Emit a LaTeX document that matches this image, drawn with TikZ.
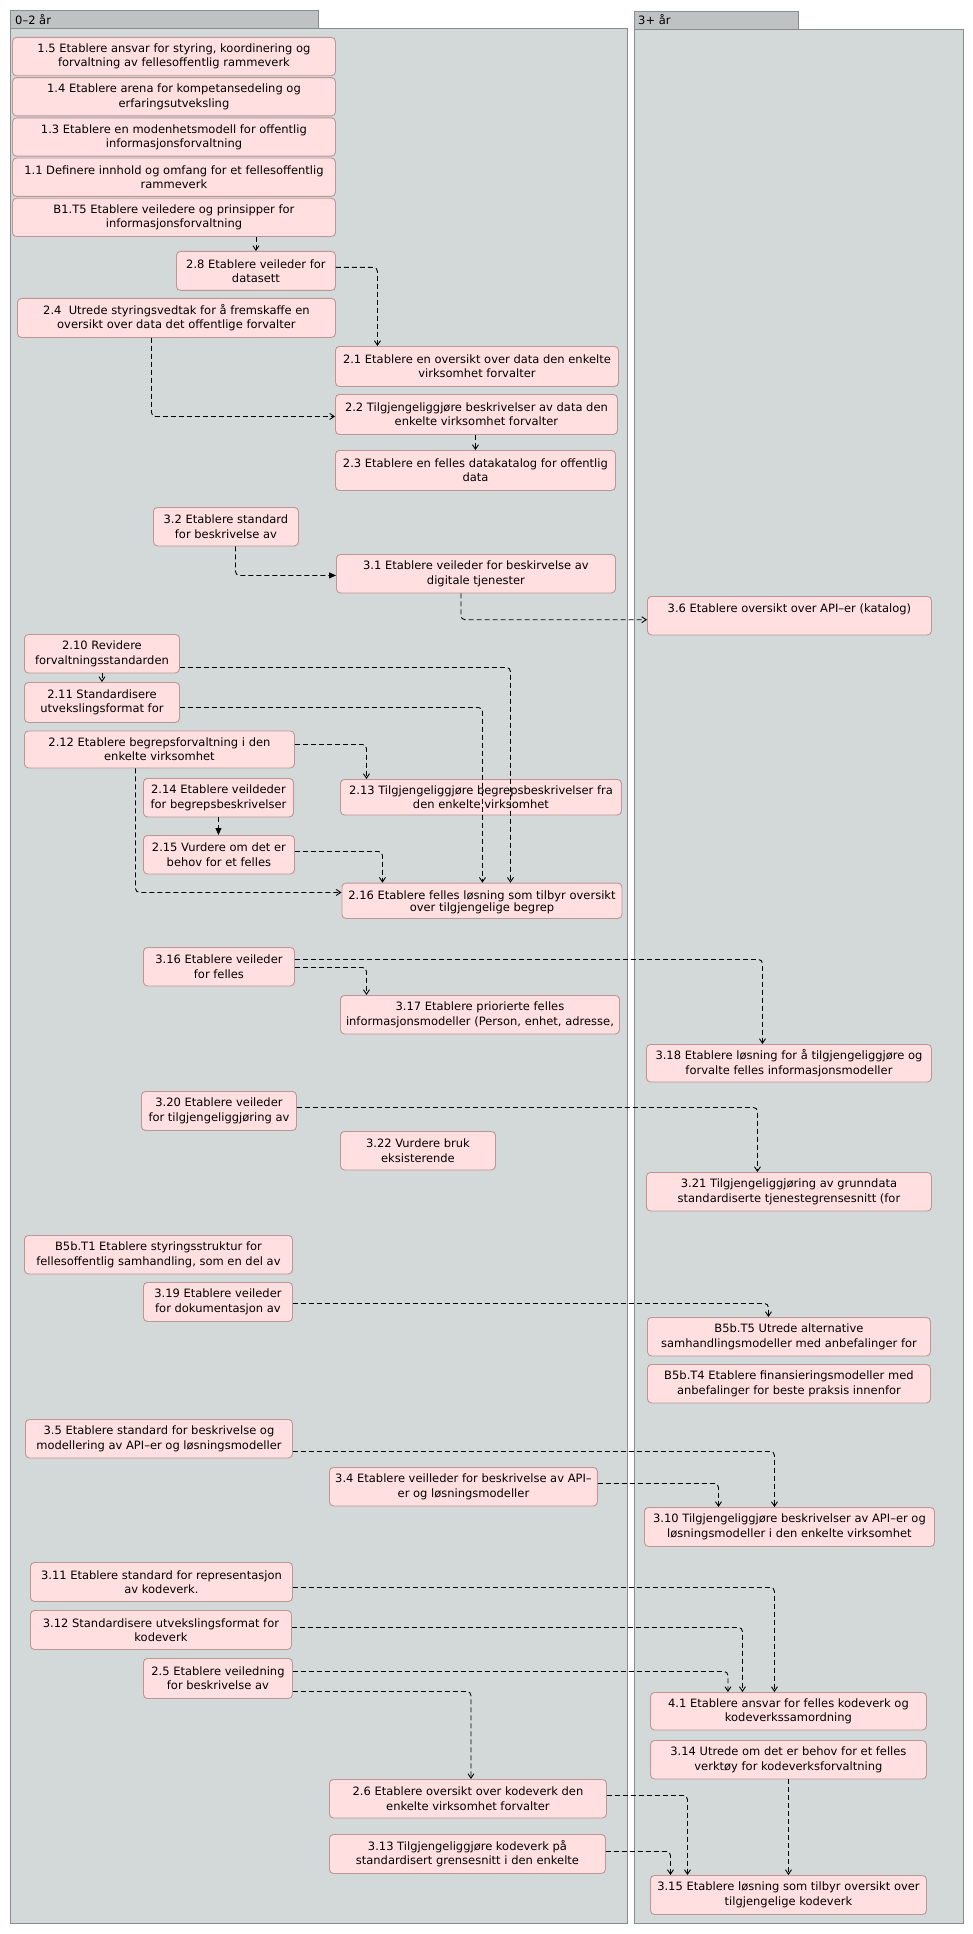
\documentclass[tikz,border=0pt]{standalone}
\usepackage{fontspec}
\setmainfont{DejaVu Sans}
\usepackage{tikz}
\newcommand\tiltakfont{\fontsize{11.5}{14.3}\selectfont}
\definecolor{fasefyll}{RGB}{211,217,217}
\definecolor{fanefyll}{RGB}{190,194,195}
\definecolor{faselinje}{RGB}{140,140,140}
\definecolor{tiltakfyll}{RGB}{255,223,223}
\definecolor{tiltaklinje}{RGB}{190,150,150}
\tikzstyle{avhengighet} = [dash pattern=on 5pt off 3pt, line width=0.9pt, rounded corners=4pt, -{Straight Barb[length=4.5pt,width=6pt]}]
\tikzstyle{forutsetning} = [-{Triangle[length=7pt,width=6pt]}]
\usetikzlibrary{arrows.meta}
\usetikzlibrary{positioning}

\begin{document}
\begin{tikzpicture}[x=1pt, y=-1pt,
                      fase/.style={draw=faselinje, fill=fasefyll, line width=0.9pt},
                      fane/.style={draw=faselinje, fill=fanefyll, line width=0.9pt},
                      fanetekst/.style={anchor=west, inner sep=0pt, font=\tiltakfont},
                      tiltak/.style={draw=tiltaklinje, fill=tiltakfyll, line width=0.9pt, rounded corners=4pt,
                                     inner sep=0pt, minimum height=38.5pt, align=center, anchor=north west, font=\tiltakfont}]

        \fill[white] (0,0) rectangle (973,1934);
        \useasboundingbox (0,0) rectangle (973,1934);

        \draw[fase] (10,28.5) rectangle (627,1923);
        \draw[fane] (10,10.5) rectangle (318,28.5);
        \node[fanetekst] (fase02) at (15,19.5) {0–2 år};
        \draw[fase] (634,29) rectangle (963,1923);
        \draw[fane] (634,11.5) rectangle (798,29);
        \node[fanetekst] (fase3) at (638,20) {3+ år};

        \node[tiltak, minimum width=323pt, minimum height=38.3pt] (t15) at (12,37) {1.5 Etablere ansvar for styring, koordinering og\\forvaltning av fellesoffentlig rammeverk};
        \node[tiltak, minimum width=323pt, minimum height=38.3pt, below=1pt of t15] (t14) {1.4 Etablere arena for kompetansedeling og\\erfaringsutveksling};
        \node[tiltak, minimum width=323pt, minimum height=38.3pt, below=1pt of t14] (t13) {1.3 Etablere en modenhetsmodell for offentlig\\informasjonsforvaltning};
        \node[tiltak, minimum width=323pt, minimum height=38.3pt, below=1pt of t13] (t11) {1.1 Definere innhold og omfang for et fellesoffentlig\\rammeverk};
        \node[tiltak, minimum width=323pt, minimum height=38.3pt, below=1pt of t11] (tB1T5) {B1.T5 Etablere veiledere og prinsipper for\\informasjonsforvaltning};

        \node[tiltak, minimum width=159pt, minimum height=39pt] (t28) at (176,251) {2.8 Etablere veileder for\\datasett};
        \node[tiltak, minimum width=318pt, minimum height=39pt] (t24) at (17,298) {2.4\ \ Utrede styringsvedtak for å fremskaffe en\\oversikt over data det offentlige forvalter};
        \node[tiltak, minimum width=283pt, minimum height=40pt] (t21) at (335,346) {2.1 Etablere en oversikt over data den enkelte\\virksomhet forvalter};
        \node[tiltak, minimum width=282pt, minimum height=40pt] (t22) at (335,394) {2.2 Tilgjengeliggjøre beskrivelser av data den\\enkelte virksomhet forvalter};
        \node[tiltak, minimum width=280pt, minimum height=40pt] (t23) at (335,450) {2.3 Etablere en felles datakatalog for offentlig\\data};

        \node[tiltak, minimum width=145pt] (t32) at (153,507) {3.2 Etablere standard\\for beskrivelse av};
        \node[tiltak, minimum width=279pt] (t31) at (336,554) {3.1 Etablere veileder for beskirvelse av\\digitale tjenester};
        \node[tiltak, minimum width=284pt] (t36) at (647,596) {3.6 Etablere oversikt over API–er (katalog)\\\mbox{}};

        \node[tiltak, minimum width=155pt] (t210) at (24,634) {2.10 Revidere\\forvaltningsstandarden};
        \node[tiltak, minimum width=155pt, minimum height=40pt] (t211) at (24,682) {2.11 Standardisere\\utvekslingsformat for};
        \node[tiltak, minimum width=270pt, minimum height=37pt] (t212) at (24,730.5) {2.12 Etablere begrepsforvaltning i den\\enkelte virksomhet};
        \node[tiltak, minimum width=150pt] (t214) at (143,778) {2.14 Etablere veildeder\\for begrepsbeskrivelser};
        \node[tiltak, minimum width=151pt] (t215) at (143,835) {2.15 Vurdere om det er\\behov for et felles};
        \node[tiltak, minimum width=281pt, minimum height=35.5pt] (t213) at (340,779) {2.13 Tilgjengeliggjøre begrepsbeskrivelser fra\\den enkelte virksomhet};
        \node[tiltak, minimum width=280pt, minimum height=35.3pt] (t216) at (341.5,882.7) {};
        \begin{scope}
          \clip ([yshift=5pt]t216.south west) rectangle (t216.north east);
          \node[font=\fontsize{11.5}{12.8}\selectfont, align=center, inner sep=0pt, anchor=north] (t216tekst) at ([yshift=-7.5pt]t216.north) {2.16 Etablere felles løsning som tilbyr oversikt\\over tilgjengelige begrep};
        \end{scope}

        \node[tiltak, minimum width=151pt] (t316) at (143,947) {3.16 Etablere veileder\\for felles};
        \node[tiltak, minimum width=279pt] (t317) at (340,995) {3.17 Etablere priorierte felles\\informasjonsmodeller (Person, enhet, adresse,};
        \node[tiltak, minimum width=285pt, minimum height=37.5pt] (t318) at (646,1044) {3.18 Etablere løsning for å tilgjengeliggjøre og\\forvalte felles informasjonsmodeller};
        \node[tiltak, minimum width=155pt, minimum height=39pt] (t320) at (141,1091) {3.20 Etablere veileder\\for tilgjengeliggjøring av};
        \node[tiltak, minimum width=155pt] (t322) at (340,1131) {3.22 Vurdere bruk\\eksisterende};
        \node[tiltak, minimum width=285pt] (t321) at (646,1172) {3.21 Tilgjengeliggjøring av grunndata\\standardiserte tjenestegrensesnitt (for};

        \node[tiltak, minimum width=268pt] (tB5bT1) at (24,1235) {B5b.T1 Etablere styringsstruktur for\\fellesoffentlig samhandling, som en del av};
        \node[tiltak, minimum width=149pt, minimum height=39pt] (t319) at (143,1282) {3.19 Etablere veileder\\for dokumentasjon av};
        \node[tiltak, minimum width=283pt] (tB5bT5) at (647,1317) {B5b.T5 Utrede alternative\\samhandlingsmodeller med anbefalinger for};
        \node[tiltak, minimum width=283pt] (tB5bT4) at (647,1364) {B5b.T4 Etablere finansieringsmodeller med\\anbefalinger for beste praksis innenfor};

        \node[tiltak, minimum width=267pt] (t35) at (25,1419) {3.5 Etablere standard for beskrivelse og\\modellering av API–er og løsningsmodeller};
        \node[tiltak, minimum width=268pt] (t34) at (329,1467) {3.4 Etablere veilleder for beskrivelse av API–\\er og løsningsmodeller};
        \node[tiltak, minimum width=290pt, minimum height=39pt] (t310) at (644,1507) {3.10 Tilgjengeliggjøre beskrivelser av API–er og\\løsningsmodeller i den enkelte virksomhet};

        \node[tiltak, minimum width=262pt, minimum height=39pt] (t311) at (30,1562) {3.11 Etablere standard for representasjon\\av kodeverk.};
        \node[tiltak, minimum width=261pt, minimum height=39pt] (t312) at (30,1610) {3.12 Standardisere utvekslingsformat for\\kodeverk};
        \node[tiltak, minimum width=149pt, minimum height=40pt] (t25) at (143,1658) {2.5 Etablere veiledning\\for beskrivelse av};
        \node[tiltak, minimum width=276pt, minimum height=37.5pt] (t41) at (650,1692) {4.1 Etablere ansvar for felles kodeverk og\\kodeverkssamordning};
        \node[tiltak, minimum width=276pt] (t314) at (650,1740) {3.14 Utrede om det er behov for et felles\\verktøy for kodeverksforvaltning};
        \node[tiltak, minimum width=277pt] (t26) at (329,1779) {2.6 Etablere oversikt over kodeverk den\\enkelte virksomhet forvalter};
        \node[tiltak, minimum width=276pt, minimum height=39pt] (t313) at (329,1834) {3.13 Tilgjengeliggjøre kodeverk på\\standardisert grensesnitt i den enkelte};
        \node[tiltak, minimum width=276pt, minimum height=39pt] (t315) at (650,1875) {3.15 Etablere løsning som tilbyr oversikt over\\tilgjengelige kodeverk};

        \draw[avhengighet] (tB1T5.south -| t28.north) -- (t28.north);
        \draw[avhengighet] ([yshift=3.5pt]t28.east) -| ([xshift=-99.5pt]t21.north);
        \draw[avhengighet] ([xshift=-25pt]t24.south) |- ([yshift=-2pt]t22.west);
        \draw[avhengighet] (t22.south -| t23.north) -- (t23.north);
        \draw[avhengighet, forutsetning] ([xshift=9.5pt]t32.south) |- ([yshift=-1.75pt]t31.west);
        \draw[avhengighet] ([xshift=-15pt]t31.south) |- ([yshift=-4pt]t36.west);

        \draw[avhengighet] (t210.south) -- (t211.north);
        \draw[avhengighet] ([yshift=-13.75pt]t210.east) -| ([xshift=28.5pt]t216.north);
        \draw[avhengighet] ([yshift=-5pt]t211.east) -| ([xshift=0.5pt]t216.north);
        \draw[avhengighet] ([yshift=5pt]t212.east) -| ([xshift=-114.5pt]t213.north);
        \draw[avhengighet] ([xshift=-24pt]t212.south) |- ([yshift=8.35pt]t216.west);
        \draw[avhengighet, forutsetning] (t214.south) -- (t214.south |- t215.north);
        \draw[avhengighet] ([yshift=3.25pt]t215.east) -| ([xshift=-99.5pt]t216.north);

        \draw[avhengighet] ([yshift=7.25pt]t316.east) -| ([xshift=-26.5pt]t318.north);
        \draw[avhengighet] ([yshift=-0.75pt]t316.east) -| ([xshift=-113.5pt]t317.north);
        \draw[avhengighet] ([yshift=3.5pt]t320.east) -| ([xshift=-31.5pt]t321.north);
        \draw[avhengighet] ([yshift=-1.5pt]t319.east) -| ([xshift=-20.5pt]tB5bT5.north);
        \draw[avhengighet] ([yshift=-12.75pt]t35.east) -| ([xshift=-15pt]t310.north);
        \draw[avhengighet] ([yshift=3.25pt]t34.east) -| ([xshift=-71pt]t310.north);

        \draw[avhengighet] ([yshift=-5.5pt]t311.east) -| ([xshift=-14pt]t41.north);
        \draw[avhengighet] ([yshift=2.5pt]t312.east) -| ([xshift=-46pt]t41.north);
        \draw[avhengighet] ([yshift=7pt]t25.east) -| ([xshift=-60.5pt]t41.north);
        \draw[avhengighet] ([yshift=-13pt]t25.east) -| ([xshift=3pt]t26.north);
        \draw[avhengighet] (t314.south) -- (t315.north);
        \draw[avhengighet] ([yshift=3.25pt]t26.east) -| ([xshift=-101pt]t315.north);
        \draw[avhengighet] ([yshift=2.5pt]t313.east) -| ([xshift=-118pt]t315.north);
    \end{tikzpicture}
\end{document}
